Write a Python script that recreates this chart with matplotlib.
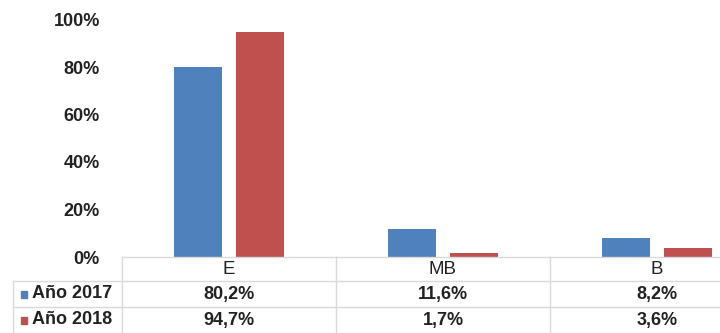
"""Bar chart E / MB / B, 2017 vs 2018, with a data table under the bars."""
import numpy as np
import matplotlib
matplotlib.use("Agg")
import matplotlib.pyplot as plt
from matplotlib.patches import Rectangle

plt.rcParams["font.family"] = ["Liberation Sans", "DejaVu Sans"]

# -------------------------------------------------------
# Data.
# -------------------------------------------------------
categories = ["E", "MB", "B"]
series_names = ["Año 2017", "Año 2018"]
vals_2017 = [80.2, 11.6, 8.2]
vals_2018 = [94.7, 1.7, 3.6]
labels_2017 = ["80,2%", "11,6%", "8,2%"]
labels_2018 = ["94,7%", "1,7%", "3,6%"]
yticks = [0, 20, 40, 60, 80, 100]

colors = ["#4f81bd", "#c0504d"]
grid_col = "#d9d9d9"
text_col = "#222222"

# -------------------------------------------------------
# Plot.
# -------------------------------------------------------
W, H = 720, 333
fig = plt.figure(figsize=(W / 100, H / 100), dpi=100)

# one category column is ~214 px wide, plot starts at x=122
unit = 214.0
x0_px = 122
ax_w = 3 * unit
ax = fig.add_axes([x0_px / W, (H - 257) / H, ax_w / W, 237.5 / H])

x = np.arange(len(categories))
bw = 0.225
off = 0.145
ax.bar(x - off, vals_2017, bw, color=colors[0])
ax.bar(x + off, vals_2018, bw, color=colors[1])
ax.set_xlim(-0.5, 2.5)
ax.set_ylim(0, 100)
ax.set_yticks(yticks)
ax.set_yticklabels([f"{t}%" for t in yticks], fontsize=13,
                   fontweight="bold", color=text_col)
ax.tick_params(axis="y", length=0, pad=16)
ax.set_xticks([])
for s in ax.spines.values():
    s.set_visible(False)

# data table underneath, same x scale
tax = fig.add_axes([0, 0, (x0_px + ax_w) / W, 76 / H])
tax.set_xlim(-0.5 - x0_px / unit, 2.5)
row_edges = [0, 24, 50, 76]  # px from top of table
tax.set_ylim(76, 0)
tax.axis("off")

def px2x(p):
    return -0.5 - (x0_px - p) / unit

lx = px2x(13)
kw = dict(color=grid_col, lw=1, clip_on=False)
# horizontal lines
tax.plot([-0.5, 2.5], [0, 0], **kw)
tax.plot([lx, 2.5], [row_edges[1]] * 2, **kw)
tax.plot([lx, 2.5], [row_edges[2]] * 2, **kw)
# vertical lines
tax.plot([lx, lx], [row_edges[1], 76], **kw)
for xv in [-0.5, 0.5, 1.5]:
    tax.plot([xv, xv], [0, 76], **kw)

mid = [(row_edges[i] + row_edges[i + 1]) / 2 for i in range(3)]
for i, c in enumerate(categories):
    tax.text(i, mid[0], c, ha="center", va="center", fontsize=13.5,
             color=text_col)
for i, (a, b) in enumerate(zip(labels_2017, labels_2018)):
    tax.text(i, mid[1], a, ha="center", va="center", fontsize=13,
             fontweight="bold", color=text_col)
    tax.text(i, mid[2], b, ha="center", va="center", fontsize=13,
             fontweight="bold", color=text_col)

for j, name in enumerate(series_names):
    r = j + 1
    tax.add_patch(Rectangle((px2x(21), mid[r] - 3.5), 6.5 / unit, 7,
                            color=colors[j], clip_on=False))
    tax.text(px2x(32), mid[r], name, ha="left", va="center", fontsize=13,
             fontweight="bold", color=text_col)

fig.savefig("out.png", dpi=100)
